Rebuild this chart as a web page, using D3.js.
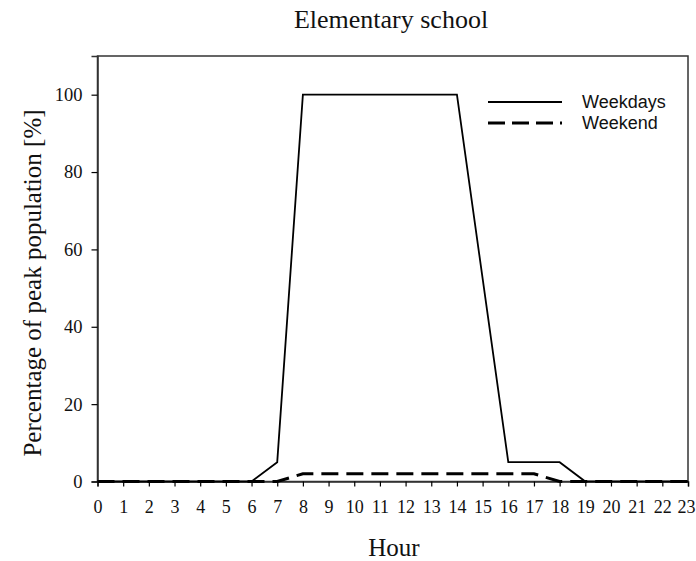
<!DOCTYPE html>
<html>
<head>
<meta charset="utf-8">
<script src="https://cdn.jsdelivr.net/npm/d3@7"></script>
<style>
  html, body { margin: 0; padding: 0; background: #fff; }
  svg { display: block; }
</style>
</head>
<body>
<svg id="chart" width="696" height="561"></svg>
<script>
const hours = d3.range(0, 24);
const weekdays = [0, 0, 0, 0, 0, 0, 0, 5, 100, 100, 100, 100, 100, 100, 100, 52.5, 5, 5, 5, 0, 0, 0, 0, 0];
const weekend  = [0, 0, 0, 0, 0, 0, 0, 0, 2, 2, 2, 2, 2, 2, 2, 2, 2, 2, 0, 0, 0, 0, 0, 0];
const yTicks = [0, 20, 40, 60, 80, 100];
const seriesNames = ["Weekdays", "Weekend"];

const svg = d3.select("#chart");
const m = { left: 97.5, right: 688, top: 56, bottom: 481.5 };
const x = d3.scaleLinear().domain([0, 23]).range([m.left, m.right]);
const y = d3.scaleLinear().domain([0, 110]).range([m.bottom, m.top]);

const serif = "'Liberation Serif', 'Times New Roman', serif";
const sans = "'Liberation Sans', Arial, sans-serif";

// frame
svg.append("rect")
  .attr("x", m.left).attr("y", m.top)
  .attr("width", m.right - m.left).attr("height", m.bottom - m.top)
  .attr("fill", "none").attr("stroke", "#333").attr("stroke-width", 1.5);

// x axis
const xAxis = svg.append("g")
  .attr("transform", `translate(0,${m.bottom})`)
  .call(d3.axisBottom(x).tickValues(hours).tickSize(5).tickPadding(14).tickFormat(d3.format("d")));
xAxis.select(".domain").attr("stroke", "#333").attr("stroke-width", 1.5);
xAxis.selectAll(".tick line").attr("stroke", "#000").attr("stroke-width", 1.2);
xAxis.selectAll(".tick text").attr("font-family", serif).attr("font-size", 18).attr("fill", "#111")
  .attr("dx", d => d === 23 ? -2 : 0);

// y axis
const yAxis = svg.append("g")
  .attr("transform", `translate(${m.left},0)`)
  .call(d3.axisLeft(y).tickValues(yTicks).tickSize(6).tickPadding(9));
yAxis.select(".domain").attr("stroke", "#333").attr("stroke-width", 1.5);
yAxis.selectAll(".tick line").attr("stroke", "#000").attr("stroke-width", 1.2);
yAxis.selectAll(".tick text").attr("font-family", serif).attr("font-size", 18.5).attr("fill", "#111");

// lines
const line = d3.line().x((d, i) => x(hours[i])).y(d => y(d));
svg.append("path").datum(weekend)
  .attr("d", line).attr("fill", "none").attr("stroke", "#000")
  .attr("stroke-width", 3).attr("stroke-dasharray", "17,8");
svg.append("path").datum(weekdays)
  .attr("d", line).attr("fill", "none").attr("stroke", "#000")
  .attr("stroke-width", 1.8).attr("stroke-linejoin", "miter");

// legend
const lg = svg.append("g");
const legendRows = [
  { name: seriesNames[0], y: 102, dash: null, w: 1.8 },
  { name: seriesNames[1], y: 123, dash: "17,7", w: 3 }
];
legendRows.forEach(r => {
  lg.append("line").attr("x1", 488).attr("x2", 562).attr("y1", r.y).attr("y2", r.y)
    .attr("stroke", "#000").attr("stroke-width", r.w)
    .attr("stroke-dasharray", r.dash);
  lg.append("text").attr("x", 582).attr("y", r.y + 6)
    .attr("font-family", sans).attr("font-size", 18).attr("fill", "#111")
    .text(r.name);
});

// titles
svg.append("text").attr("x", 391).attr("y", 28).attr("text-anchor", "middle")
  .attr("font-family", serif).attr("font-size", 26).attr("fill", "#111")
  .text("Elementary school");
svg.append("text").attr("x", 394).attr("y", 556).attr("text-anchor", "middle")
  .attr("font-family", serif).attr("font-size", 25).attr("fill", "#111")
  .text("Hour");
svg.append("text").attr("transform", "translate(41,283) rotate(-90)")
  .attr("text-anchor", "middle")
  .attr("font-family", serif).attr("font-size", 25).attr("fill", "#111")
  .text("Percentage of peak population [%]");
</script>
</body>
</html>
